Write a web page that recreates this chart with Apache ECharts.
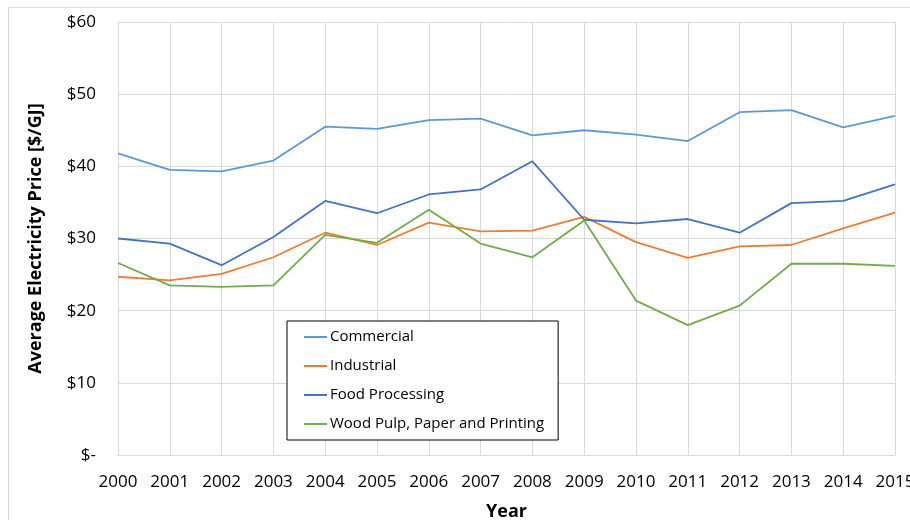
<!DOCTYPE html>
<html>
<head>
<meta charset="utf-8">
<script src="https://cdn.jsdelivr.net/npm/echarts@6/dist/echarts.min.js"></script>
<style>
  html, body { margin: 0; padding: 0; background: #fff; }
  #chart { width: 910px; height: 520px; }
</style>
</head>
<body>
<div id="chart"></div>
<script>
// years on the x axis
var years = ['2000', '2001', '2002', '2003', '2004', '2005', '2006', '2007',
             '2008', '2009', '2010', '2011', '2012', '2013', '2014', '2015'];

// average electricity price, $/GJ
var commercial = [41.8, 39.5, 39.3, 40.8, 45.5, 45.2, 46.4, 46.6, 44.3, 45.0, 44.4, 43.5, 47.5, 47.8, 45.4, 47.0];
var industrial = [24.7, 24.2, 25.1, 27.4, 30.8, 29.1, 32.2, 31.0, 31.1, 33.0, 29.5, 27.3, 28.9, 29.1, 31.4, 33.6];
var foodProcessing = [30.0, 29.3, 26.3, 30.2, 35.2, 33.5, 36.1, 36.8, 40.7, 32.6, 32.1, 32.7, 30.8, 34.9, 35.2, 37.5];
var woodPulp = [26.6, 23.5, 23.3, 23.5, 30.5, 29.4, 34.0, 29.3, 27.4, 32.5, 21.4, 18.0, 20.7, 26.5, 26.5, 26.2];

// y tick labels, one per 10 $/GJ
var yTickLabels = ['$-', '$10', '$20', '$30', '$40', '$50', '$60'];

var seriesNames = ['Commercial', 'Industrial', 'Food Processing', 'Wood Pulp, Paper and Printing'];
var seriesData = [commercial, industrial, foodProcessing, woodPulp];
var colors = ['#5B9BD5', '#ED7D31', '#4472C4', '#70AD47'];

var font = "'Open Sans', sans-serif";

var chart = echarts.init(document.getElementById('chart'));

var series = seriesNames.map(function (name, i) {
    return {
        name: name,
        type: 'line',
        data: seriesData[i],
        symbol: 'none',
        lineStyle: { width: 1.8, color: colors[i] },
        itemStyle: { color: colors[i] },
        animation: false
    };
});

var option = {
    backgroundColor: '#fff',
    animation: false,
    graphic: [{
        type: 'rect',
        shape: { x: 8.5, y: 7.5, width: 1000, height: 1000 },
        style: { fill: 'none', stroke: '#d9d9d9', lineWidth: 1 },
        silent: true
    }],
    grid: { left: 118, right: 15, top: 22, bottom: 65, outerBoundsMode: 'none' },
    legend: {
        orient: 'vertical',
        left: 287,
        top: 321,
        data: seriesNames,
        icon: 'rect',
        itemWidth: 23,
        itemHeight: 2,
        itemGap: 13,
        padding: [8, 14, 8, 17],
        borderColor: '#000',
        borderWidth: 1,
        backgroundColor: '#fff',
        textStyle: { fontFamily: font, fontSize: 15, color: '#000', padding: [0, 0, 0, -2], lineHeight: 16 }
    },
    xAxis: {
        type: 'category',
        data: years,
        boundaryGap: false,
        name: 'Year',
        nameLocation: 'middle',
        nameGap: 48,
        nameTextStyle: { fontFamily: font, fontSize: 18, fontWeight: 'bold', color: '#000' },
        axisLine: { lineStyle: { color: '#d9d9d9' } },
        axisTick: { show: false },
        axisLabel: { fontFamily: font, fontSize: 17, color: '#000', margin: 19, interval: 0 },
        splitLine: { show: true, lineStyle: { color: '#d9d9d9', width: 1 } }
    },
    yAxis: {
        type: 'value',
        min: 0,
        max: 60,
        interval: 10,
        name: 'Average Electricity Price [$/GJ]',
        nameLocation: 'middle',
        nameGap: 73,
        nameTextStyle: { fontFamily: font, fontSize: 18, fontWeight: 'bold', color: '#000' },
        axisLine: { show: true, lineStyle: { color: '#d9d9d9' } },
        axisTick: { show: false },
        axisLabel: {
            fontFamily: font, fontSize: 17, color: '#000', margin: 22,
            formatter: function (v) { return yTickLabels[Math.round(v / 10)]; }
        },
        splitLine: { lineStyle: { color: '#d9d9d9', width: 1 } }
    },
    series: series
};

chart.setOption(option);
</script>
</body>
</html>
